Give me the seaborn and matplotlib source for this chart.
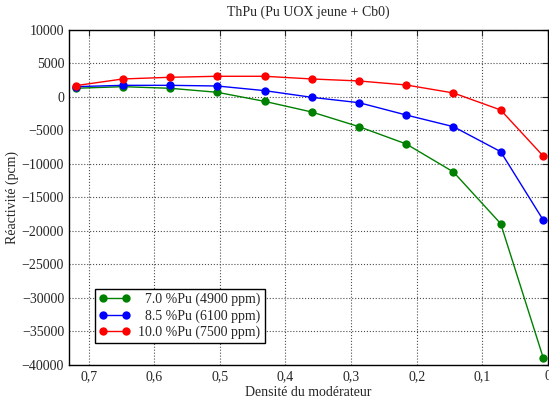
import pandas as pd
import matplotlib
matplotlib.use('Agg')
import matplotlib.pyplot as plt
import matplotlib.ticker as mticker
import seaborn as sns

# densité du modérateur
densite = [0.72, 0.648, 0.576, 0.504, 0.432, 0.36, 0.288, 0.216, 0.144, 0.072, 0.0072]

# réactivité (pcm)
rho_70 = [1300, 1540, 1300, 700, -650, -2240, -4430, -7010, -11190, -18900, -38900]
rho_85 = [1540, 1740, 1740, 1640, 950, -50, -850, -2690, -4430, -8160, -18360]
rho_100 = [1690, 2690, 2940, 3090, 3090, 2690, 2390, 1790, 600, -1940, -8810]

# figure space to right-align the labels like the original legend
series = ['\u20077.0 %Pu (4900 ppm)', '\u20078.5 %Pu (6100 ppm)', '10.0 %Pu (7500 ppm)']
couleurs = ['green', 'blue', 'red']

df = pd.concat([
    pd.DataFrame({'densite': densite, 'rho': r, 'serie': s})
    for r, s in zip([rho_70, rho_85, rho_100], series)
])

sns.set_style('white')
plt.rcParams['font.family'] = ['Liberation Serif', 'DejaVu Serif']

fig = plt.figure(figsize=(5.49, 4.03), dpi=100)
ax = fig.add_axes([0.1257, 0.0943, 0.8723, 0.8313])

sns.lineplot(
    data=df, x='densite', y='rho', hue='serie',
    palette=dict(zip(series, couleurs)),
    marker='o', markersize=6, markeredgewidth=0, linewidth=1,
    sort=False, ax=ax
)

ax.set_xlim(0.73, 0)
ax.set_ylim(-40000, 10000)
ax.set_xticks([0.7, 0.6, 0.5, 0.4, 0.3, 0.2, 0.1, 0])
ax.xaxis.set_major_formatter(mticker.FuncFormatter(
    lambda v, p: '0' if abs(v) < 1e-9 else ('%.1f' % v).replace('.', ',')))
ax.set_yticks(range(-40000, 10001, 5000))
ax.grid(True, linestyle=':', color='0.3', linewidth=0.8)
ax.tick_params(direction='in', labelsize=10, length=4, top=True, right=True)
for sp in ax.spines.values():
    sp.set_color('black')
    sp.set_linewidth(1)

ax.set_xlabel('Densité du modérateur', fontsize=10, labelpad=2)
ax.set_ylabel('Réactivité (pcm)', fontsize=10, labelpad=2)
ax.set_title('ThPu (Pu UOX jeune + Cb0)', fontsize=10, pad=10)

leg = ax.legend(loc='lower left', bbox_to_anchor=(0.04, 0.045), fontsize=10,
                numpoints=2, handlelength=2.2, frameon=True, fancybox=False,
                borderpad=0.3, labelspacing=0.2, handletextpad=0.6,
                framealpha=1)
leg.get_frame().set_edgecolor('black')
leg.get_frame().set_linewidth(1)

fig.savefig('out.png', dpi=100)
